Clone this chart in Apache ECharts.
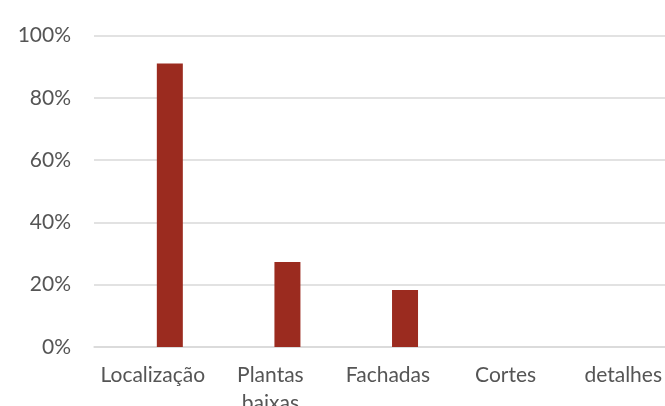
<!DOCTYPE html>
<html>
<head>
<meta charset="utf-8">
<script src="https://cdn.jsdelivr.net/npm/echarts@6/dist/echarts.min.js"></script>
<style>
  html, body { margin: 0; padding: 0; background: #fff; }
  #chart { width: 665px; height: 406px; }
</style>
</head>
<body>
<div id="chart"></div>
<script>
// Share of projects containing each drawing type
const categories = ['Localização', 'Plantas\nbaixas', 'Fachadas', 'Cortes', 'detalhes'];
const shares = [0.91, 0.273, 0.183, 0, 0];
// empty companion series (keeps the Excel-style clustered offset)
const companion = [null, null, null, null, null];
const yTicks = [0, 0.2, 0.4, 0.6, 0.8, 1.0];

const textColor = '#555555';
const gridColor = '#d9d9d9';
const fontFamily = 'Lato, "Open Sans", sans-serif';

const chart = echarts.init(document.getElementById('chart'), null, { renderer: 'canvas' });
chart.setOption({
  animation: false,
  backgroundColor: '#ffffff',
  grid: {
    left: 94, right: -17, top: 35.5, bottom: 59,
    containLabel: false, outerBoundsMode: 'none'
  },
  xAxis: {
    type: 'category',
    data: categories,
    axisTick: { show: false },
    axisLine: { show: true, lineStyle: { color: gridColor, width: 1.5 } },
    axisLabel: {
      color: textColor, fontFamily: fontFamily, fontSize: 21,
      margin: 14, lineHeight: 28, interval: 0
    }
  },
  yAxis: {
    type: 'value',
    min: yTicks[0],
    max: yTicks[yTicks.length - 1],
    interval: 0.2,
    axisLine: { show: false },
    axisTick: { show: false },
    splitLine: { lineStyle: { color: gridColor, width: 1.5 } },
    axisLabel: {
      color: textColor, fontFamily: fontFamily, fontSize: 21, margin: 23,
      formatter: v => Math.round(v * 100) + '%'
    }
  },
  series: [
    {
      type: 'bar', name: 'outros', data: companion,
      barWidth: 26, barGap: '31%', itemStyle: { color: 'transparent' }
    },
    {
      type: 'bar', name: 'Projetos', data: shares,
      barWidth: 26, barGap: '31%',
      itemStyle: { color: '#9b2b1f' }
    }
  ]
});
</script>
</body>
</html>
